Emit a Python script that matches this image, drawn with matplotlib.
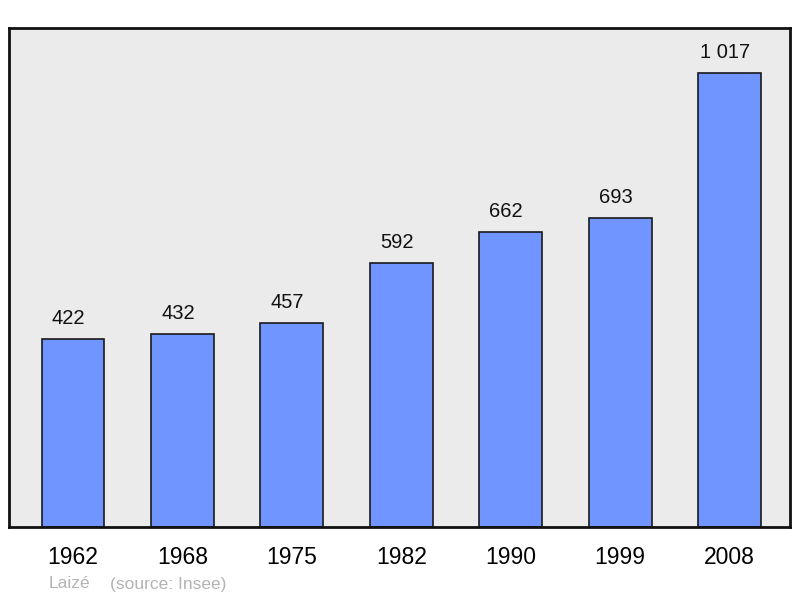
import matplotlib.pyplot as plt

# data
years = ['1962', '1968', '1975', '1982', '1990', '1999', '2008']
population = [422, 432, 457, 592, 662, 693, 1017]
value_labels = ['422', '432', '457', '592', '662', '693', '1 017']

plt.rcParams['font.family'] = ['Liberation Sans', 'DejaVu Sans']

fig = plt.figure(figsize=(8, 5.98), dpi=100)
ax = fig.add_axes([9 / 800, 1 - 527 / 598, 781 / 800, 499 / 598])
ax.set_facecolor('#ebebeb')

x = range(len(years))
bars = ax.bar(x, population, width=0.575, color='#7195ff', edgecolor='#1a1a1a', linewidth=1.2)

# value above each bar (slightly left of centre, as in the original)
for bar, lab in zip(bars, value_labels):
    ax.text(bar.get_x() + bar.get_width() / 2 - 0.04, bar.get_height() + 24, lab,
            ha='center', va='bottom', fontsize=14.5, color='#111111')

ax.set_xlim(-0.585, 6.553)
ax.set_ylim(0, 1118)
ax.set_xticks(list(x))
ax.set_xticklabels(years, fontsize=16.5)
ax.tick_params(axis='x', length=0, pad=13.5)
ax.set_yticks([])
for s in ax.spines.values():
    s.set_linewidth(2)
    s.set_color('#111111')

fig.text(49 / 800, 1 - 584 / 598, 'Laizé', fontsize=12.5, color='#b3b3b3', va='center')
fig.text(110 / 800, 1 - 584 / 598, '(source: Insee)', fontsize=12.5, color='#b3b3b3', va='center')

plt.savefig('out.png', dpi=100)
